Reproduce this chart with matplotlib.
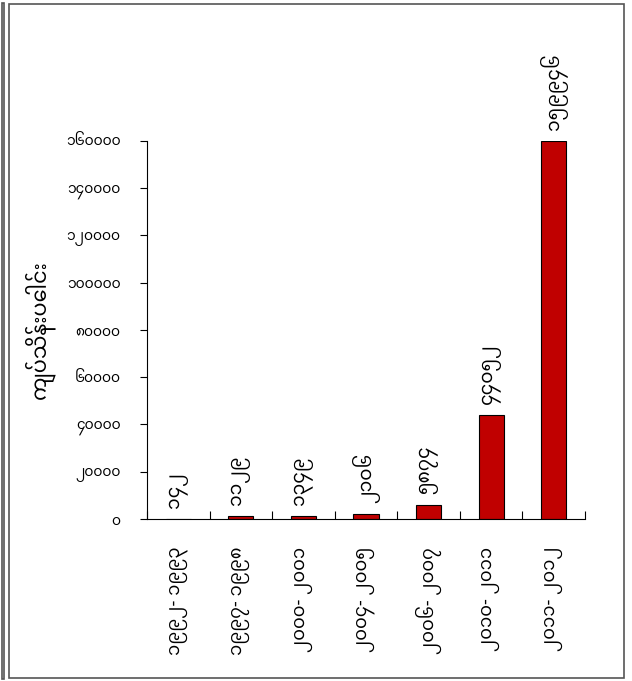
import matplotlib
matplotlib.use("Agg")
import matplotlib.pyplot as plt
from matplotlib.patches import Rectangle

# fiscal years (Myanmar digits)
years = ["၁၉၉၂- ၁၉၉၃", "၁၉၉၇- ၁၉၉၈", "၂၀၀၀- ၂၀၀၁", "၂၀၀၄- ၂၀၀၅",
         "၂၀၀၆- ၂၀၀၇", "၂၀၁၀- ၂၀၁၁", "၂၀၁၁- ၂၀၁၂"]
values = [142, 1129, 1349, 2106, 5874, 44052, 159946]
value_labels = ["၁၄၂", "၁၁၂၉", "၁၃၄၉", "၂၁၀၆", "၅၈၇၄", "၄၄၀၅၂", "၁၅၉၉၄၆"]
yticks = [0, 20000, 40000, 60000, 80000, 100000, 120000, 140000, 160000]
ytick_labels = ["၀", "၂၀၀၀၀", "၄၀၀၀၀", "၆၀၀၀၀", "၈၀၀၀၀",
                "၁၀၀၀၀၀", "၁၂၀၀၀၀", "၁၄၀၀၀၀", "၁၆၀၀၀၀"]
ylabel = "ကျပ်သိန်းပေါင်း"

# Noto Sans Myanmar is on the box (found by glyph search), DejaVu for the rest
plt.rcParams['font.family'] = ['Noto Sans Myanmar', 'Noto Sans Myanmar UI', 'DejaVu Sans']

fig = plt.figure(figsize=(6.32, 6.81), dpi=100)

# outer frame like the source picture
fig.patches.append(Rectangle((0.003, 0.003), 0.004, 0.992, transform=fig.transFigure,
                             fill=False, edgecolor="#555555", lw=1.2))
fig.patches.append(Rectangle((0.015, 0.004), 0.972, 0.99, transform=fig.transFigure,
                             fill=False, edgecolor="#555555", lw=1.2))

ax = fig.add_axes([0.2326, 0.2379, 0.693, 0.5551])
x = range(len(years))
ax.bar(x, values, width=0.4, color="#C00000", edgecolor="black", lw=0.8)

for i, (v, lab) in enumerate(zip(values, value_labels)):
    ax.annotate(lab, (i, v), xytext=(0, 8), textcoords="offset points",
                rotation=90, ha="center", va="bottom", fontsize=13.5)

ax.set_xlim(-0.5, len(years) - 0.5)
ax.set_ylim(0, 160000)
ax.set_yticks(yticks)
ax.set_yticklabels(ytick_labels, fontsize=10)
ax.set_xticks([i - 0.5 for i in range(len(years) + 1)])
ax.set_xticklabels([])
ax.set_xticks(list(x), minor=True)
ax.set_xticklabels(years, minor=True, rotation=90, fontsize=13, va="top")
ax.tick_params(axis="x", which="minor", length=0, pad=20)
ax.tick_params(axis="x", which="major", length=6, direction="in")
ax.tick_params(axis="y", length=5, pad=14)
ax.set_ylabel(ylabel, fontsize=15, fontweight="bold", labelpad=8)

for s in ["top", "right"]:
    ax.spines[s].set_visible(False)

fig.savefig("out.png", dpi=100)
